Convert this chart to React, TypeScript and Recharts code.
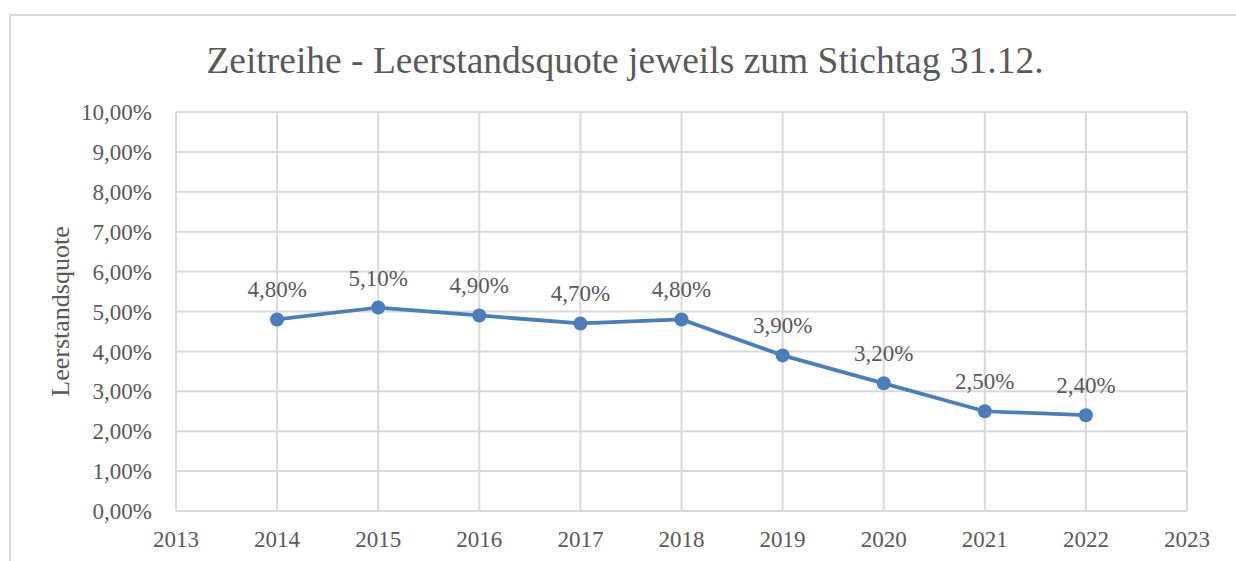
import React from "react";
import { LineChart, Line, XAxis, YAxis, CartesianGrid, LabelList } from "recharts";

const years = [2014, 2015, 2016, 2017, 2018, 2019, 2020, 2021, 2022];
const quote = [4.8, 5.1, 4.9, 4.7, 4.8, 3.9, 3.2, 2.5, 2.4];
const xTicks = [2013, 2014, 2015, 2016, 2017, 2018, 2019, 2020, 2021, 2022, 2023];
const yTicks = [0, 1, 2, 3, 4, 5, 6, 7, 8, 9, 10];

const data = years.map((y, i) => ({ year: y, value: quote[i] }));

const FONT = "'Liberation Serif', 'Times New Roman', serif";
const TEXT = "#595959";
const GRID = "#d9d9d9";
const BLUE = "#4a7ebb";

const pct = (v: number) => v.toFixed(2).replace(".", ",") + "%";

export default function App() {
  return (
    <div style={{ position: "absolute", left: 0, top: 0, width: 1236, height: 561, background: "#fff", overflow: "hidden", fontFamily: FONT }}>
      <div style={{ position: "absolute", left: 9, top: 14, width: 1260, height: 600, border: `2px solid ${GRID}`, boxSizing: "border-box" }} />
      <div style={{ position: "absolute", left: 0, top: 39, width: 1250, textAlign: "center", fontSize: 37.5, lineHeight: "44px", color: TEXT, fontFamily: FONT }}>
        Zeitreihe - Leerstandsquote jeweils zum Stichtag 31.12.
      </div>
      <div style={{ position: "absolute", left: 0, top: 0 }}>
        <LineChart width={1236} height={561} data={data} margin={{ top: 112, right: 49, bottom: 0, left: 60 }}>
          <CartesianGrid stroke={GRID} strokeWidth={2} />
          <XAxis
            dataKey="year"
            type="number"
            domain={[2013, 2023]}
            ticks={xTicks}
            tickLine={false}
            axisLine={{ stroke: GRID, strokeWidth: 2 }}
            tick={{ fill: TEXT, fontSize: 23, fontFamily: FONT }}
            tickMargin={14}
            interval={0}
            height={50}
          />
          <YAxis
            type="number"
            domain={[0, 10]}
            ticks={yTicks}
            tickFormatter={pct}
            tickLine={false}
            axisLine={{ stroke: GRID, strokeWidth: 2 }}
            tick={{ fill: TEXT, fontSize: 23, fontFamily: FONT }}
            tickMargin={18}
            width={116}
            interval={0}
            label={{ value: "Leerstandsquote", angle: -90, position: "insideLeft", offset: 0, style: { fill: TEXT, fontSize: 26, fontFamily: FONT, textAnchor: "middle" } }}
          />
          <Line
            dataKey="value"
            stroke={BLUE}
            strokeWidth={3.75}
            dot={{ r: 7, fill: BLUE, stroke: BLUE, strokeWidth: 0 }}
            isAnimationActive={false}
          >
            <LabelList dataKey="value" position="top" offset={22} formatter={(v: any) => pct(Number(v))} style={{ fill: TEXT, fontSize: 23, fontFamily: FONT }} />
          </Line>
        </LineChart>
      </div>
    </div>
  );
}
